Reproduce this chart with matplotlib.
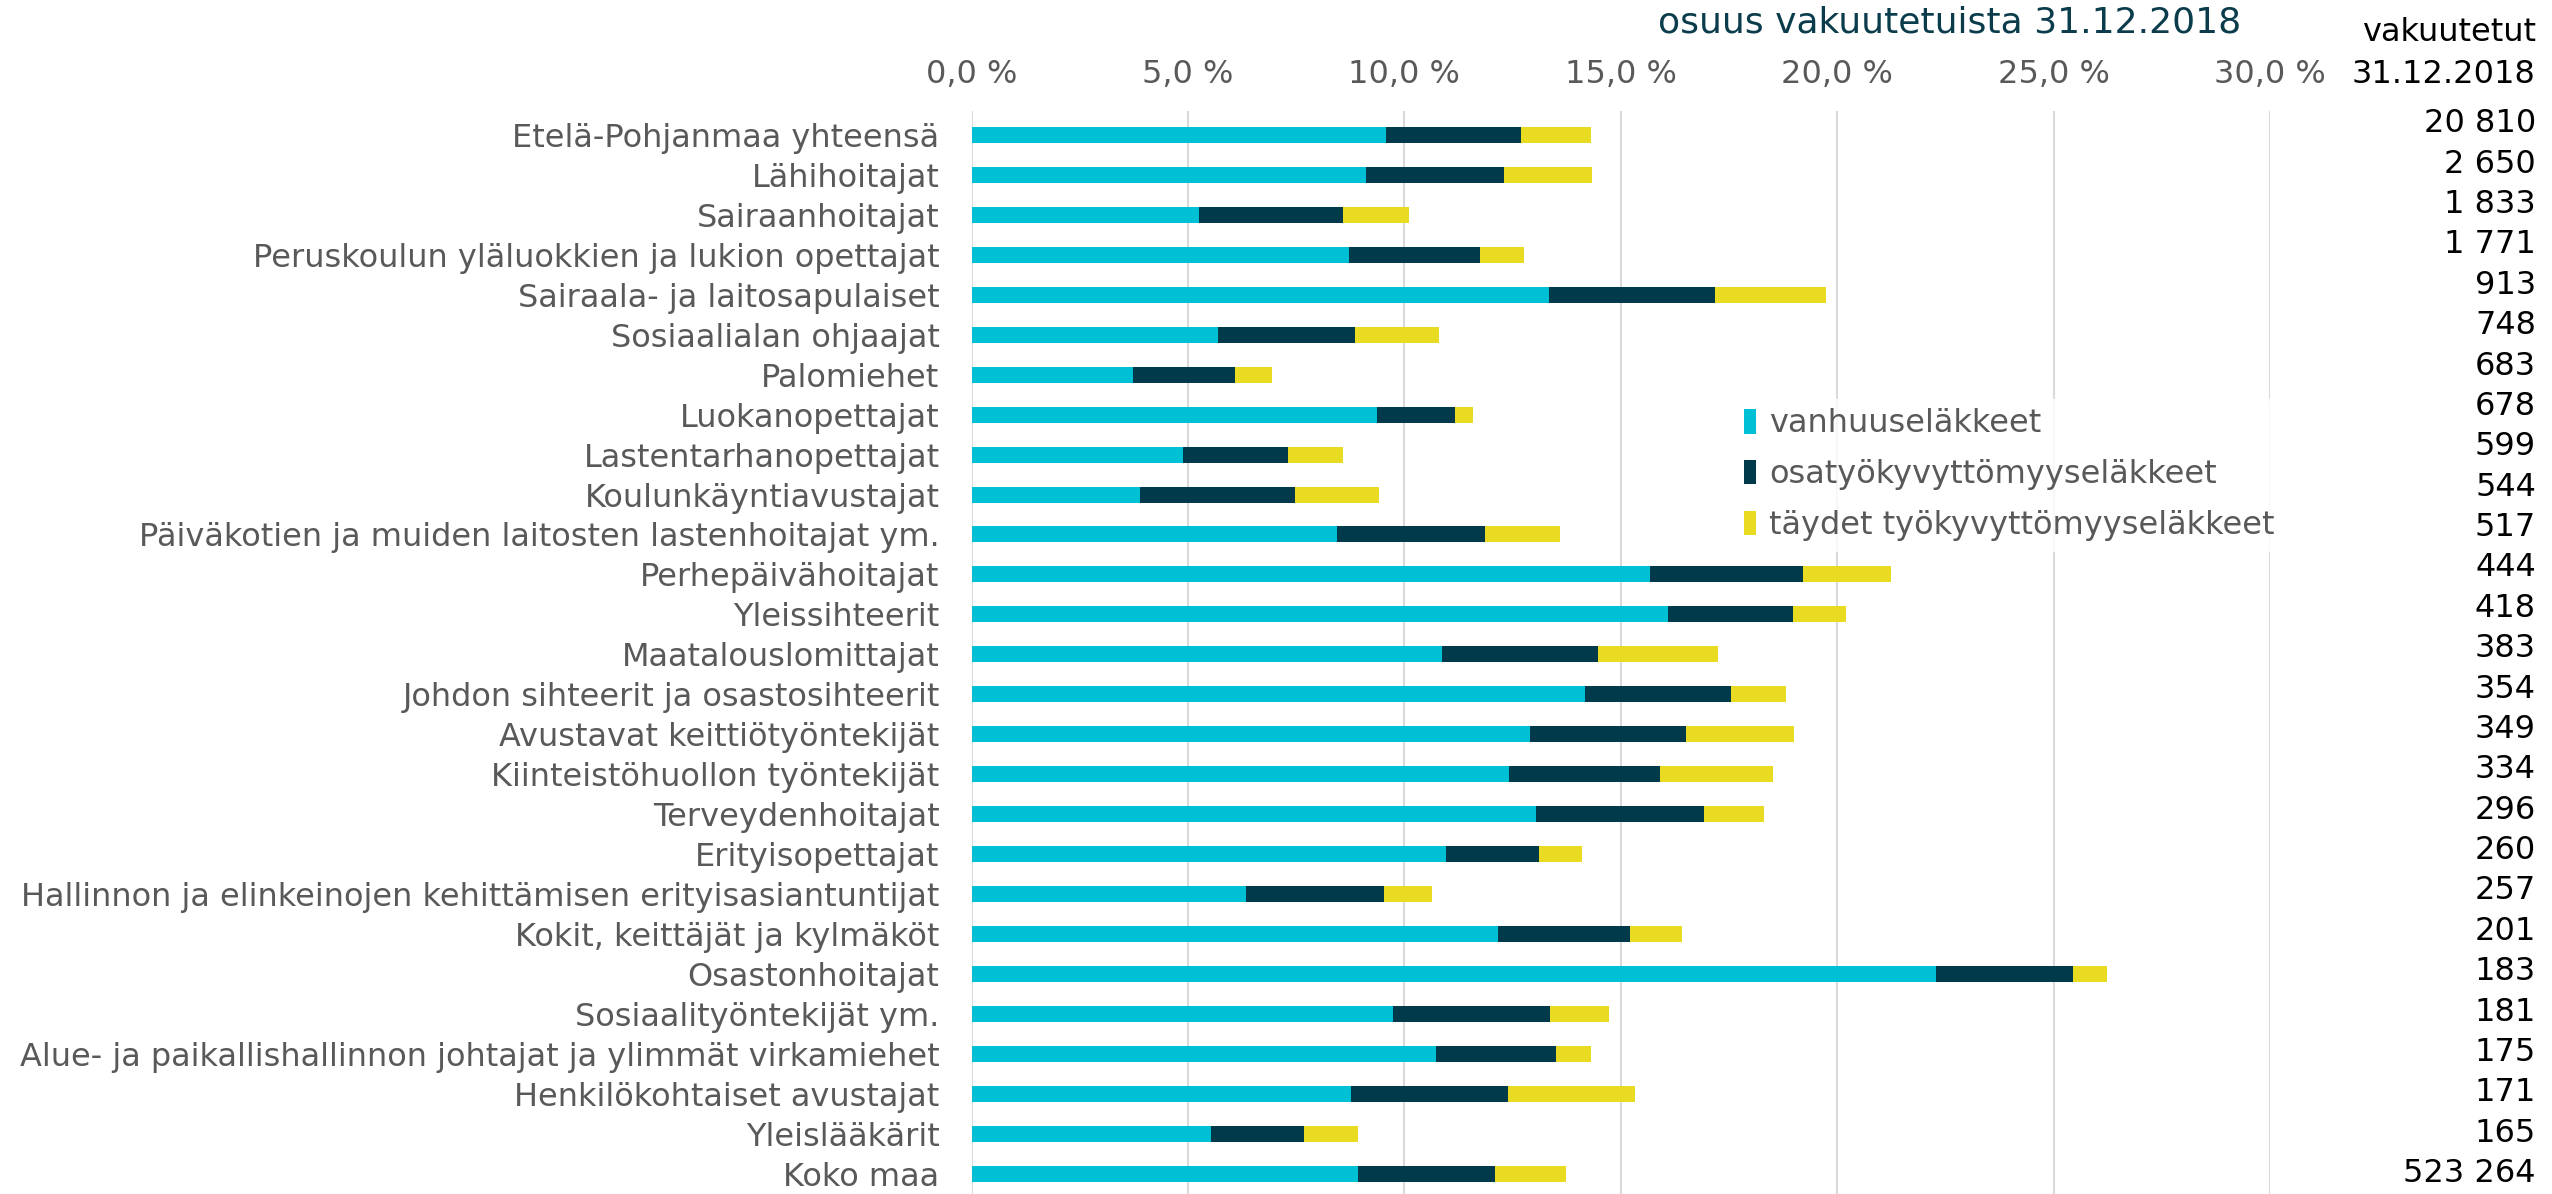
import matplotlib
matplotlib.use("Agg")
import matplotlib.pyplot as plt
import numpy as np

categories = [
    "Etelä-Pohjanmaa yhteensä",
    "Lähihoitajat",
    "Sairaanhoitajat",
    "Peruskoulun yläluokkien ja lukion opettajat",
    "Sairaala- ja laitosapulaiset",
    "Sosiaalialan ohjaajat",
    "Palomiehet",
    "Luokanopettajat",
    "Lastentarhanopettajat",
    "Koulunkäyntiavustajat",
    "Päiväkotien ja muiden laitosten lastenhoitajat ym.",
    "Perhepäivähoitajat",
    "Yleissihteerit",
    "Maatalouslomittajat",
    "Johdon sihteerit ja osastosihteerit",
    "Avustavat keittiötyöntekijät",
    "Kiinteistöhuollon työntekijät",
    "Terveydenhoitajat",
    "Erityisopettajat",
    "Hallinnon ja elinkeinojen kehittämisen erityisasiantuntijat",
    "Kokit, keittäjät ja kylmäköt",
    "Osastonhoitajat",
    "Sosiaalityöntekijät ym.",
    "Alue- ja paikallishallinnon johtajat ja ylimmät virkamiehet",
    "Henkilökohtaiset avustajat",
    "Yleislääkärit",
    "Koko maa",
]

# segment shares (%)
vanhuus = [9.58, 9.12, 5.26, 8.72, 13.34, 5.70, 3.72, 9.37, 4.89, 3.90, 8.45, 15.68, 16.09,
           10.87, 14.17, 12.91, 12.42, 13.04, 10.97, 6.33, 12.17, 22.28, 9.74, 10.73, 8.77, 5.54, 8.94]
osatyo = [3.11, 3.18, 3.33, 3.03, 3.83, 3.16, 2.37, 1.80, 2.41, 3.58, 3.42, 3.52, 2.89,
          3.61, 3.38, 3.60, 3.48, 3.88, 2.14, 3.20, 3.04, 3.16, 3.62, 2.78, 3.63, 2.13, 3.15]
taydet = [1.62, 2.03, 1.52, 1.01, 2.57, 1.94, 0.86, 0.42, 1.29, 1.94, 1.73, 2.04, 1.22,
          2.77, 1.26, 2.49, 2.62, 1.38, 0.99, 1.11, 1.20, 0.79, 1.37, 0.80, 2.93, 1.27, 1.64]
vakuutetut = [20810, 2650, 1833, 1771, 913, 748, 683, 678, 599, 544, 517, 444, 418, 383, 354,
              349, 334, 296, 260, 257, 201, 183, 181, 175, 171, 165, 523264]

series_names = ["vanhuuseläkkeet", "osatyökyvyttömyyseläkkeet", "täydet työkyvyttömyyseläkkeet"]
colors = ["#00C0D6", "#013B4B", "#E9DA22"]
tick_values = [0, 5, 10, 15, 20, 25, 30]

plt.rcParams['font.family'] = ['DejaVu Sans']

fig = plt.figure(figsize=(25.52, 11.94), dpi=100)
ax = fig.add_axes([0.3807, 0.0, 0.5088, 0.907])

y = np.arange(len(categories))
left = np.zeros(len(categories))
for vals, name, col in zip([vanhuus, osatyo, taydet], series_names, colors):
    ax.barh(y, vals, left=left, height=0.4, color=col, label=name, zorder=3)
    left = left + np.array(vals)

ax.set_xlim(0, 30)
ax.set_ylim(26.51, -0.60)
ax.xaxis.tick_top()
ax.set_xticks(tick_values)
ax.set_xticklabels([f"{v:.1f} %".replace(".", ",") for v in tick_values])
ax.tick_params(axis='x', length=0, pad=15, labelsize=23, labelcolor="#595959")
ax.set_yticks(y)
ax.set_yticklabels(categories)
ax.tick_params(axis='y', length=0, pad=23, labelsize=23, labelcolor="#595959")
ax.grid(axis='x', color="#D9D9D9", linewidth=1.5, zorder=0)
for s in ax.spines.values():
    s.set_visible(False)

# right-hand table of insured counts
trans = matplotlib.transforms.blended_transform_factory(fig.transFigure, ax.transData)
n = len(categories)
for i, v in enumerate(vakuutetut):
    shift = -0.28 * (1 - i / (n - 1))
    ax.text(0.9937, i + shift, f"{v:,}".replace(",", " "), transform=trans,
            ha="right", va="center", fontsize=23, color="black")

fig.text(0.9937, 0.973, "vakuutetut", ha="right", va="center", fontsize=23, color="black")
fig.text(0.9937, 0.938, "31.12.2018", ha="right", va="center", fontsize=23, color="black")
fig.text(0.764, 0.981, "osuus vakuutetuista 31.12.2018", ha="center", va="center",
         fontsize=26, color="#0B3C4C")

leg = ax.legend(loc="upper left", bbox_to_anchor=(0.575, 0.749), frameon=True, fontsize=23,
                handlelength=0.4, handleheight=0.8, handletextpad=0.4, labelspacing=0.62,
                borderpad=0.3)
leg.get_frame().set_facecolor("white")
leg.get_frame().set_edgecolor("white")
for t in leg.get_texts():
    t.set_color("#595959")
leg.set_zorder(5)

fig.savefig("out.png", dpi=100)
